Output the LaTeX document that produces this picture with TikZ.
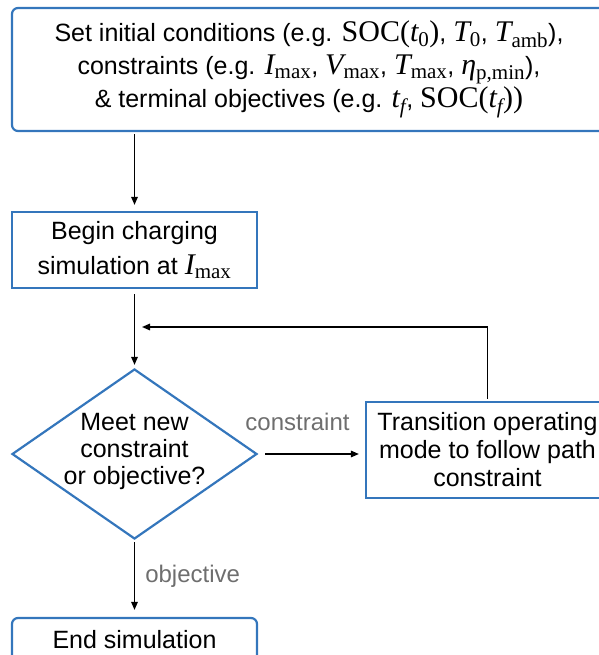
\documentclass[tikz,border=0pt]{standalone}
\usepackage{fontspec}
\usepackage{amsmath}
\setmainfont{Liberation Sans}
\newfontfamily\tms[Scale=1.2]{Liberation Serif}
\usetikzlibrary{shapes.geometric,arrows.meta}
\definecolor{boxblue}{RGB}{52,118,188}
\definecolor{lblgray}{RGB}{110,110,110}
\newcommand\mv[1]{\text{\tms\itshape #1}}
\newcommand\mr[1]{\text{\tms #1}}
\tikzset{
  box/.style={draw=boxblue, line width=2.2pt, align=center, inner sep=0pt,
    font=\fontsize{25}{28}\selectfont},
  rbox/.style={box, rounded corners=6pt},
  arr/.style={-{Triangle[length=8pt,width=6.5pt]}, line width=1.5pt, black},
  lbl/.style={text=lblgray, font=\fontsize{24}{28}\selectfont, inner sep=0pt}
}
\begin{document}
\begin{tikzpicture}[x=1pt,y=-1pt]
\useasboundingbox (0,0) rectangle (598,655);
\node[rbox, minimum width=594pt, minimum height=123pt,
  font=\fontsize{25}{33}\selectfont] (init) at (309,69.5)
  {Set initial conditions (e.g. $\mr{SOC}\mr{(}\mv{t}_{\mr{0}}\mr{)}$, $\mv{T}_{\mr{0}}$, $\mv{T}_{\mr{amb}}$),\\
   constraints (e.g. $\mv{I}_{\mr{max}}$, $\mv{V}_{\mr{max}}$, $\mv{T}_{\mr{max}}$, ${\smash[b]{\mv{η}}}_{\mr{p,min}}$),\\
   \& terminal objectives (e.g. $\mv{t}_{\mv{f}}$, $\mr{SOC}\mr{(}\mv{t}_{\mv{f}}\mr{))}$};
\node[box, minimum width=245pt, minimum height=76pt,
  font=\fontsize{25}{35}\selectfont] (begin) at (134.5,250)
  {Begin charging\\simulation at $\mv{I}_{\mr{max}}$};
\node[draw=boxblue, line width=2.2pt, diamond, minimum width=245pt, minimum height=170pt,
  inner sep=0pt] (meet) at (134.5,454) {};
\node[align=center, font=\fontsize{25}{27}\selectfont, inner sep=0pt] (meettext) at (134.5,451)
  {Meet new\\constraint\\or objective?};
\node[box, minimum width=243pt, minimum height=96pt] (trans) at (487.5,450)
  {Transition operating\\mode to follow path\\constraint};
\node[rbox, minimum width=245pt, minimum height=44pt] (end) at (134.5,640)
  {End simulation};
\coordinate (fbcorner) at (trans.north |- 0,327);
\coordinate (fbend) at (134,327);
\coordinate (transin) at (trans.west |- meet.east);
\draw[arr, shorten <=2pt, shorten >=6pt] (init.south -| begin.north) -- (begin.north);
\draw[arr, shorten <=5pt, shorten >=3pt] (begin.south) -- (meet.north);
\draw[arr, shorten <=7pt, shorten >=6pt] (meet.east) -- node[lbl, above=23pt, xshift=-14pt] {constraint} (transin);
\draw[arr, shorten <=2pt, shorten >=8pt] (trans.north) -- (fbcorner) -- (fbend);
\draw[arr, shorten <=2pt, shorten >=7pt] (meet.south) -- node[lbl, right=10pt, yshift=2pt] {objective} (end.north);
\end{tikzpicture}
\end{document}
